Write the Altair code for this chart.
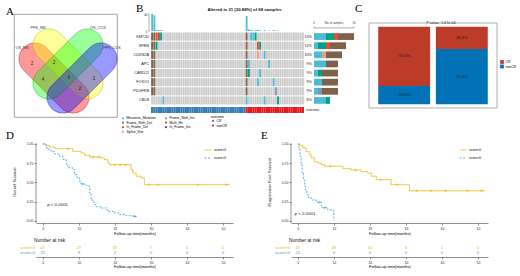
import altair as alt
import pandas as pd

# ===================== DATA =====================
# Panel A : Venn diagram
venn_sets = ["OS_NN", "PFS_NN", "OS_COX", "PFS_COX"]
venn_counts = ["2", "2", "4", "6", "1", "2"]

# Panel B : oncoplot
genes = ["KMT2D", "SPEN", "CDKN2A", "APC", "CARD11", "FOXO1", "PDGFRB", "CBLB"]
gene_pct = ["13%", "12%", "10%", "9%", "9%", "9%", "9%", "6%"]
n_samples = 68
n_cr = 42
mut_types = ["Missense_Mutation", "Frame_Shift_Del", "In_Frame_Del", "Splice_Site",
             "Frame_Shift_Ins", "Multi_Hit", "In_Frame_Ins"]
multi_hit_samples = [0, 1, 42]
multi_hit_genes = ["KMT2D", "SPEN", "CDKN2A", "APC", "CARD11", "FOXO1", "PDGFRB"]
mut_gene = ["KMT2D", "KMT2D", "KMT2D", "KMT2D", "KMT2D", "KMT2D",
            "SPEN", "SPEN", "SPEN", "CDKN2A", "CDKN2A", "APC", "APC",
            "CARD11", "CARD11", "FOXO1", "FOXO1", "PDGFRB",
            "CBLB", "CBLB", "CBLB", "CBLB"]
mut_sample = [2, 3, 4, 44, 45, 46, 2, 47, 48, 47, 50, 43, 52, 43, 48, 47, 54, 55, 5, 42, 50, 56]
mut_type = ["In_Frame_Del", "Multi_Hit", "Frame_Shift_Del", "Missense_Mutation", "Missense_Mutation",
            "Frame_Shift_Del", "Frame_Shift_Del", "In_Frame_Del", "Frame_Shift_Del", "Splice_Site",
            "Missense_Mutation", "Missense_Mutation", "Missense_Mutation", "Frame_Shift_Del",
            "Missense_Mutation", "Missense_Mutation", "Missense_Mutation", "Frame_Shift_Ins",
            "Missense_Mutation", "Missense_Mutation", "Missense_Mutation", "Frame_Shift_Del"]
tmb_sample = [0, 1, 2, 3, 4, 5, 42, 43, 44, 45, 46, 47, 48, 50, 52, 54, 55, 56]
tmb_value = [40, 37, 3, 2, 2, 1, 35, 4, 2, 1, 2, 3, 2, 2, 1, 2, 1, 1]
bar_gene = ["KMT2D"] * 4 + ["SPEN"] * 4 + ["CDKN2A"] * 3 + ["APC"] * 2 + ["CARD11"] * 3 + \
           ["FOXO1"] * 2 + ["PDGFRB"] * 3 + ["CBLB"] * 2
bar_type = ["Missense_Mutation", "Frame_Shift_Del", "In_Frame_Del", "Multi_Hit",
            "Missense_Mutation", "Frame_Shift_Del", "In_Frame_Del", "Multi_Hit",
            "Missense_Mutation", "Splice_Site", "Multi_Hit",
            "Missense_Mutation", "Multi_Hit",
            "Missense_Mutation", "Frame_Shift_Del", "Multi_Hit",
            "Missense_Mutation", "Multi_Hit",
            "Missense_Mutation", "Frame_Shift_Ins", "Multi_Hit",
            "Missense_Mutation", "Frame_Shift_Del"]
bar_count = [3, 2, 1, 4, 1, 2, 1, 4, 2, 1, 4, 3, 3, 1, 1, 4, 2, 4, 1, 1, 4, 3, 1]

# Panel C : outcome by score group
score_groups = ["score<0", "score>0"]
cr_pct = [76.6, 28.6]
noncr_pct = [23.4, 71.4]
c_pvalue = "P value : 1.67e-04"

# Panels D / E : Kaplan-Meier
os_low_t = [0, 0.9, 1.9, 3.4, 8.3, 10.6, 11.6, 13.0, 16.2, 17.1, 18.1, 18.5, 24.5, 25.0, 25.9, 27.3, 28.2, 52.0]
os_low_s = [1.0, 0.98, 0.96, 0.94, 0.904, 0.883, 0.852, 0.83, 0.817, 0.796, 0.752, 0.73, 0.665, 0.62, 0.58, 0.557, 0.47, 0.47]
os_high_t = [0, 0.9, 1.6, 2.3, 3.2, 4.6, 5.6, 6.5, 6.9, 8.3, 8.8, 9.5, 10.2, 10.6, 11.6, 12.7, 13.0, 13.4,
             13.9, 14.4, 14.8, 16.2, 17.9, 19.9, 21.3, 23.1, 25.0, 25.9]
os_high_s = [1.0, 0.95, 0.93, 0.90, 0.87, 0.84, 0.80, 0.74, 0.69, 0.67, 0.60, 0.56, 0.51, 0.48, 0.46, 0.45, 0.36,
             0.27, 0.24, 0.21, 0.18, 0.165, 0.12, 0.10, 0.08, 0.065, 0.056, 0.03]
os_low_cens = [7.0, 14.0, 15.5, 20.0, 21.5, 23.0, 29.5, 32.0, 43.0, 51.0]
os_high_cens = [11.0, 25.5]
pfs_low_t = [0, 0.5, 1.4, 2.3, 3.2, 3.7, 4.6, 5.6, 6.5, 7.4, 12.5, 14.8, 17.6, 19.4, 20.4, 21.8, 25.9, 31.0, 52.0]
pfs_low_s = [1.0, 0.98, 0.95, 0.90, 0.86, 0.82, 0.77, 0.75, 0.73, 0.71, 0.68, 0.66, 0.64, 0.62, 0.58, 0.535, 0.47, 0.39, 0.39]
pfs_high_t = [0, 0.3, 0.6, 0.9, 1.2, 1.6, 1.9, 2.1, 2.5, 3.0, 3.7, 5.1, 6.5, 8.3, 10.0]
pfs_high_s = [1.0, 0.93, 0.84, 0.73, 0.62, 0.53, 0.45, 0.40, 0.34, 0.30, 0.27, 0.24, 0.17, 0.14, 0.0]
pfs_low_cens = [9.0, 16.0, 23.0, 27.5, 33.0, 37.0, 41.0, 47.0, 51.0]
pfs_high_cens = [6.0, 7.5]
risk_t = [0, 10, 20, 30, 40, 50]
os_risk_low = [47, 27, 15, 7, 5, 2]
os_risk_high = [21, 9, 2, 0, 0, 0]
pfs_risk_low = [47, 28, 14, 6, 1, 0]
pfs_risk_high = [21, 0, 0, 0, 0, 0]

# ===================== STYLE =====================
SANS = "Liberation Sans"
SERIF = "Liberation Serif"
venn_fill = ["#FF0000", "#FFFF00", "#00FF00", "#0000FF"]
venn_line = ["#B00000", "#A0A000", "#00A000", "#0000B0"]
mut_colors = ["#4DBBD5", "#00A087", "#E64B35", "#F39B7F", "#8491B4", "#7E6148", "#3C5488"]
outcome_colors = ["#377EB8", "#E41A1C"]
c_colors = ["#BC3C29", "#0072B5"]
km_colors = ["#E7B800", "#2E9FDF"]
AX = dict(labelFontSize=3.5, tickSize=2, tickWidth=0.5, domainWidth=0.5, domainColor="#222",
          tickColor="#222", labelColor="#333", labelPadding=1, grid=False)


def letter(ch, dx, dy):
    return alt.Chart(pd.DataFrame({"t": [ch]})).mark_text(
        font=SERIF, fontSize=11, align="left", baseline="alphabetic", color="black"
    ).encode(x=alt.value(dx), y=alt.value(dy), text="t:N")


def spacer(w, h=1):
    return alt.Chart(pd.DataFrame({"v": [0]})).mark_point(opacity=0, size=1).encode(
        x=alt.value(0), y=alt.value(0)).properties(width=w, height=h)


def stadium_path(a, r):
    k = 0.5523 * r
    segs = [("M", [-a, -r]), ("L", [a, -r]),
            ("C", [a + k, -r, a + r, -k, a + r, 0]),
            ("C", [a + r, k, a + k, r, a, r]),
            ("L", [-a, r]),
            ("C", [-a - k, r, -a - r, k, -a - r, 0]),
            ("C", [-a - r, -k, -a - k, -r, -a, -r])]
    return "".join(c + ",".join(f"{v:.4f}" for v in vals) for c, vals in segs) + "Z"


# ===================== PANEL A =====================
VW = 103
vxs = alt.Scale(domain=[0, VW], nice=False, zero=False)
vys = alt.Scale(domain=[0, VW], nice=False, zero=False, reverse=True)
shape_df = pd.DataFrame({"set": venn_sets, "cx": [40, 54, 54, 68], "cy": [64, 50, 50, 64],
                         "ang": [45, 45, 135, 135]})
venn_shapes = alt.Chart(shape_df).mark_point(
    shape=stadium_path(0.628, 0.372), filled=True, opacity=1, fillOpacity=0.4,
    strokeOpacity=0.6, strokeWidth=0.6, size=86 * 86
).encode(
    x=alt.X("cx:Q", scale=vxs, axis=None),
    y=alt.Y("cy:Q", scale=vys, axis=None),
    angle=alt.Angle("ang:Q", scale=None),
    fill=alt.Fill("set:N", scale=alt.Scale(domain=venn_sets, range=venn_fill), legend=None),
    stroke=alt.Stroke("set:N", scale=alt.Scale(domain=venn_sets, range=venn_line), legend=None),
)
name_df = pd.DataFrame({"name": venn_sets, "x": [8, 24, 84, 98], "y": [34, 14, 14, 34]})
venn_names = alt.Chart(name_df).mark_text(fontSize=3.8, color="#333").encode(
    x=alt.X("x:Q", scale=vxs, axis=None), y=alt.Y("y:Q", scale=vys, axis=None), text="name:N")
count_df = pd.DataFrame({"n": venn_counts, "x": [18, 40, 29, 55, 80, 66], "y": [50, 49, 66, 64, 65, 75]})
venn_nums = alt.Chart(count_df).mark_text(fontSize=4.5, color="#222").encode(
    x=alt.X("x:Q", scale=vxs, axis=None), y=alt.Y("y:Q", scale=vys, axis=None), text="n:N")
panelA = alt.layer(venn_shapes, venn_names, venn_nums, letter("A", -8, 1)).properties(
    width=VW, height=VW, view=alt.ViewBackground(stroke="#8a8a8a", strokeWidth=0.8))

# ===================== PANEL B =====================
BW, BH = 226, 99
GX0, GY0 = 21, 18
SPX, RPX = 2.25, 9.125
sx = alt.Scale(domain=[-GX0 / SPX, (BW - GX0) / SPX], nice=False, zero=False)
ry = alt.Scale(domain=[-GY0 / RPX, (BH - GY0) / RPX], nice=False, zero=False, reverse=True)
TMB_TOP, TMB_ZERO_PX = 40, 17
ty = alt.Scale(domain=[TMB_TOP - BH * TMB_TOP / TMB_ZERO_PX, TMB_TOP], nice=False, zero=False)
CNT0_PX, CPX = 184, 4
cxs = alt.Scale(domain=[-CNT0_PX / CPX, (BW - CNT0_PX) / CPX], nice=False, zero=False)
OUT_Y0, OUT_Y1 = (106 - 31) / RPX, (BH - GY0) / RPX

gidx = {g: i for i, g in enumerate(genes)}
cell = {}
for s in multi_hit_samples:
    for g in multi_hit_genes:
        cell[(gidx[g], s)] = "Multi_Hit"
for g, s, t in zip(mut_gene, mut_sample, mut_type):
    cell[(gidx[g], s)] = t
grid_rows = []
for gi in range(len(genes)):
    for s in range(n_samples):
        grid_rows.append({"x0": s + 0.06, "x1": s + 0.94, "y0": gi + 0.055, "y1": gi + 0.945,
                          "type": cell.get((gi, s), "none")})
grid = alt.Chart(pd.DataFrame(grid_rows)).mark_rect().encode(
    x=alt.X("x0:Q", scale=sx, axis=None), x2="x1:Q",
    y=alt.Y("y0:Q", scale=ry, axis=None), y2="y1:Q",
    color=alt.Color("type:N", scale=alt.Scale(domain=mut_types + ["none"], range=mut_colors + ["#CCCCCC"]),
                    legend=alt.Legend(values=mut_types, orient="none", legendX=-9, legendY=102, columns=2,
                                      title=None, symbolType="circle", symbolSize=5, labelFontSize=3.4,
                                      rowPadding=0.6, columnPadding=8, labelOffset=1.5, padding=0)),
)
out_df = pd.DataFrame({"x0": list(range(n_samples)), "x1": [s + 1 for s in range(n_samples)],
                       "y0": OUT_Y0, "y1": OUT_Y1,
                       "outcome": ["CR" if s < n_cr else "nonCR" for s in range(n_samples)]})
outc = alt.Chart(out_df).mark_rect().encode(
    x=alt.X("x0:Q", scale=sx, axis=None), x2="x1:Q",
    y=alt.Y("y0:Q", scale=ry, axis=None), y2="y1:Q",
    color=alt.Color("outcome:N", scale=alt.Scale(domain=["CR", "nonCR"], range=outcome_colors),
                    legend=alt.Legend(orient="none", legendX=81, legendY=101, title="outcome",
                                      titleFontSize=3.4, titleFontWeight="normal", titlePadding=0.5,
                                      symbolType="circle", symbolSize=5, labelFontSize=3.4,
                                      rowPadding=0.6, labelOffset=1.5, padding=0)),
)
tmb_df = pd.DataFrame({"x0": [s + 0.1 for s in tmb_sample], "x1": [s + 0.9 for s in tmb_sample],
                       "y0": 0, "y1": tmb_value})
tmb = alt.Chart(tmb_df).mark_rect(color="#4DBBD5").encode(
    x=alt.X("x0:Q", scale=sx, axis=None), x2="x1:Q",
    y=alt.Y("y0:Q", scale=ty, axis=alt.Axis(orient="left", values=[0, TMB_TOP], domain=False, tickSize=1.5,
                                            tickWidth=0.4, labelFontSize=3, labelPadding=0.5, title=None,
                                            offset=-(GX0 - 2), grid=False, labelColor="#333")),
    y2="y1:Q",
)
tmb_rule = alt.Chart(pd.DataFrame({"x": [-0.9], "y0": [0], "y1": [TMB_TOP]})).mark_rule(
    strokeWidth=0.4, color="#333").encode(
    x=alt.X("x:Q", scale=sx, axis=None), y=alt.Y("y0:Q", scale=ty, axis=None), y2="y1:Q")

bar_rows = []
acc = {}
for g, t, c in zip(bar_gene, bar_type, bar_count):
    start = acc.get(g, 0)
    acc[g] = start + c
    bar_rows.append({"gene": g, "type": t, "x0": start, "x1": start + c,
                     "y0": gidx[g] + 0.13, "y1": gidx[g] + 0.87})
bars = alt.Chart(pd.DataFrame(bar_rows)).mark_rect().encode(
    x=alt.X("x0:Q", scale=cxs, axis=None), x2="x1:Q",
    y=alt.Y("y0:Q", scale=ry, axis=None), y2="y1:Q",
    color=alt.Color("type:N", scale=alt.Scale(domain=mut_types, range=mut_colors), legend=None),
)
bax_rule = alt.Chart(pd.DataFrame({"x0": [0], "x1": [10], "y": [-0.45]})).mark_rule(
    strokeWidth=0.4, color="#333").encode(
    x=alt.X("x0:Q", scale=cxs, axis=None), x2="x1:Q", y=alt.Y("y:Q", scale=ry, axis=None))
bax_ticks = alt.Chart(pd.DataFrame({"x": [0, 10], "y0": [-0.45, -0.45], "y1": [-0.6, -0.6]})).mark_rule(
    strokeWidth=0.4, color="#333").encode(
    x=alt.X("x:Q", scale=cxs, axis=None), y=alt.Y("y0:Q", scale=ry, axis=None), y2="y1:Q")
bax_text = alt.Chart(pd.DataFrame({"x": [0, 5, 10], "t": ["0", "No. of samples", "10"]})).mark_text(
    fontSize=2.8, baseline="bottom", color="#333", dy=-1.5).encode(
    x=alt.X("x:Q", scale=cxs, axis=None), y=alt.value(GY0 - 0.6 * RPX), text="t:N")
gene_lab = alt.Chart(pd.DataFrame({"g": genes, "y": [i + 0.5 for i in range(len(genes))]})).mark_text(
    fontSize=3.8, align="right", baseline="middle", color="#222").encode(
    x=alt.value(GX0 - 2), y=alt.Y("y:Q", scale=ry, axis=None), text="g:N")
pct_lab = alt.Chart(pd.DataFrame({"p": gene_pct, "x": 0, "y": [i + 0.5 for i in range(len(genes))]})).mark_text(
    fontSize=3.8, align="right", baseline="middle", color="#222", dx=-2).encode(
    x=alt.X("x:Q", scale=cxs, axis=None), y=alt.Y("y:Q", scale=ry, axis=None), text="p:N")
out_lab = alt.Chart(pd.DataFrame({"t": ["outcome"], "x": [n_samples + 1], "y": [(OUT_Y0 + OUT_Y1) / 2]})).mark_text(
    fontSize=3.4, align="left", baseline="middle", color="#222").encode(
    x=alt.X("x:Q", scale=sx, axis=None), y=alt.Y("y:Q", scale=ry, axis=None), text="t:N")
b_title = alt.Chart(pd.DataFrame({"t": ["Altered in 21 (30.88%) of 68 samples."]})).mark_text(
    fontSize=4.3, fontWeight="bold", baseline="middle", color="#111").encode(
    x=alt.value(244 - 129), y=alt.value(-4), text="t:N")
panelB = alt.layer(grid, outc, tmb, tmb_rule, bars, bax_rule, bax_ticks, bax_text, gene_lab, pct_lab,
                   out_lab, b_title, letter("B", 6, -2)).resolve_scale(
    x="independent", y="independent", color="independent").properties(width=BW, height=BH)

# ===================== PANEL C =====================
CW, CH = 128, 94
C_UNIT = 85 / 110.0
cys = alt.Scale(domain=[-5, 105 + 9 / C_UNIT], nice=False, zero=False)
c_rows = []
for g, cr, nc in zip(score_groups, cr_pct, noncr_pct):
    c_rows.append({"group": g, "outcome": "nonCR", "y0": 0, "y1": nc, "ym": nc / 2, "lab": f"{nc}%"})
    c_rows.append({"group": g, "outcome": "CR", "y0": nc, "y1": nc + cr, "ym": nc + cr / 2, "lab": f"{cr}%"})
c_df = pd.DataFrame(c_rows)
cxband = alt.Scale(domain=score_groups, paddingInner=0.1, paddingOuter=0.16)
c_bars = alt.Chart(c_df).mark_bar().encode(
    x=alt.X("group:N", scale=cxband, axis=alt.Axis(title=None, labelAngle=0, labelFontSize=3.4, tickSize=1.5,
                                                   tickWidth=0.4, tickColor="#777", domain=False,
                                                   labelColor="#444", labelPadding=1)),
    y=alt.Y("y0:Q", scale=cys, axis=alt.Axis(values=[0, 25, 50, 75, 100], title=None, labelFontSize=3.4,
                                             tickSize=1.5, tickWidth=0.4, tickColor="#777", domain=False,
                                             grid=False, labelColor="#444", labelPadding=1)),
    y2="y1:Q",
    color=alt.Color("outcome:N", scale=alt.Scale(domain=["CR", "nonCR"], range=c_colors),
                    legend=alt.Legend(orient="none", legendX=131, legendY=46, title=None, symbolType="square",
                                      symbolSize=14, labelFontSize=3.4, rowPadding=0.5, labelOffset=1.5,
                                      padding=0, symbolStrokeWidth=0)),
)
c_labels = alt.Chart(c_df).mark_text(fontSize=4.2, color="#222").encode(
    x=alt.X("group:N", scale=cxband, axis=None), y=alt.Y("ym:Q", scale=cys, axis=None), text="lab:N")
c_frame = alt.Chart(pd.DataFrame({"a": [0]})).mark_rect(fillOpacity=0, stroke="#9a9a9a", strokeWidth=0.8).encode(
    y=alt.datum(-5), y2=alt.datum(105))
c_title = alt.Chart(pd.DataFrame({"t": [c_pvalue]})).mark_text(fontSize=3.6, baseline="middle", dx=8,
                                                              color="#222").encode(
    y=alt.datum(105), text="t:N")
panelC = alt.layer(c_bars, c_labels, c_frame, c_title, letter("C", -14, -2)).properties(width=CW, height=CH)

# ===================== PANELS D / E (curve + risk table in one view) =====================
KW, KH = 197, 114
KM_PLOT_H = 80
KM_XDOM = [-1.9, 52.8]
KM_YTOP, KM_YBOT = 1.013, -0.03
KY_UNIT = KM_PLOT_H / (KM_YTOP - KM_YBOT)
kxs = alt.Scale(domain=KM_XDOM, nice=False, zero=False)
kys = alt.Scale(domain=[KM_YTOP - KH / KY_UNIT, KM_YTOP], nice=False, zero=False)
RISK_ROW_PX, RISK_ROW0_PX = 5, 105
rys = alt.Scale(domain=[-RISK_ROW0_PX / RISK_ROW_PX, (KH - RISK_ROW0_PX) / RISK_ROW_PX],
                nice=False, zero=False, reverse=True)
gscale = alt.Scale(domain=score_groups, range=km_colors)


def step_value(ts, ss, t):
    v = ss[0]
    for ti, si in zip(ts, ss):
        if ti <= t:
            v = si
    return v


def km_legend():
    return alt.Legend(orient="none", legendX=168, legendY=3, title=None, symbolType="stroke", symbolSize=49,
                      symbolStrokeWidth=0.8, labelFontSize=3.4, rowPadding=2, labelOffset=2, padding=0)


def km_panel(tl, sl, th, sh, cl, ch, ytitle, px, py, ch_letter, risk_low, risk_high):
    df = pd.concat([pd.DataFrame({"t": tl, "s": sl, "g": "score<0"}),
                    pd.DataFrame({"t": th, "s": sh, "g": "score>0"})])
    lines = alt.Chart(df).mark_line(interpolate="step-after", strokeWidth=0.8).encode(
        x=alt.X("t:Q", scale=kxs, axis=alt.Axis(orient="bottom", offset=-(KH - KM_PLOT_H), values=risk_t,
                                                title="Follow-up time(months)", titleFontSize=4,
                                                titleFontWeight="normal", titlePadding=2, **AX)),
        y=alt.Y("s:Q", scale=kys, axis=alt.Axis(orient="left", values=[0, 0.25, 0.5, 0.75, 1.0], format=".2f",
                                                title=None, domain=False, **{k: v for k, v in AX.items()
                                                                               if not k.startswith("domain")})),
        color=alt.Color("g:N", scale=gscale, legend=km_legend()),
        strokeDash=alt.StrokeDash("g:N", scale=alt.Scale(domain=score_groups, range=[[1, 0], [2, 1.5]]),
                                  legend=km_legend()),
    )
    yline = alt.Chart(pd.DataFrame({"x": [KM_XDOM[0]], "y0": [KM_YBOT], "y1": [KM_YTOP]})).mark_rule(
        strokeWidth=0.5, color="#222").encode(
        x=alt.X("x:Q", scale=kxs, axis=None), y=alt.Y("y0:Q", scale=kys, axis=None), y2="y1:Q")
    cdf = pd.concat([pd.DataFrame({"t": cl, "s": [step_value(tl, sl, t) for t in cl], "g": "score<0"}),
                     pd.DataFrame({"t": ch, "s": [step_value(th, sh, t) for t in ch], "g": "score>0"})])
    cens = alt.Chart(cdf).mark_point(shape="M-1,0L1,0M0,-1L0,1", filled=False, size=9, strokeWidth=0.5,
                                     opacity=1).encode(
        x=alt.X("t:Q", scale=kxs, axis=None), y=alt.Y("s:Q", scale=kys, axis=None),
        color=alt.Color("g:N", scale=gscale, legend=None))
    ptxt = alt.Chart(pd.DataFrame({"t": [px], "s": [py], "lab": ["p < 0.0001"]})).mark_text(
        fontSize=4.4, align="left", baseline="middle", color="#222").encode(
        x=alt.X("t:Q", scale=kxs, axis=None), y=alt.Y("s:Q", scale=kys, axis=None), text="lab:N")
    ytit = alt.Chart(pd.DataFrame({"s": [0.5], "lab": [ytitle]})).mark_text(
        fontSize=4.2, angle=270, align="center", baseline="middle", color="#222").encode(
        x=alt.value(-21.5), y=alt.Y("s:Q", scale=kys, axis=None), text="lab:N")
    # risk table
    rdf = pd.concat([pd.DataFrame({"t": risk_t, "n": risk_low, "g": "score<0", "r": 0}),
                     pd.DataFrame({"t": risk_t, "n": risk_high, "g": "score>0", "r": 1})])
    rnums = alt.Chart(rdf).mark_text(fontSize=4.2, baseline="middle").encode(
        x=alt.X("t:Q", scale=kxs, axis=alt.Axis(orient="bottom", values=risk_t, title="Follow-up time(months)",
                                                titleFontSize=4, titleFontWeight="normal", titlePadding=1, **AX)),
        y=alt.Y("r:Q", scale=rys, axis=None),
        text="n:Q",
        fill=alt.Fill("g:N", scale=gscale, legend=None),
    )
    rlabs = alt.Chart(pd.DataFrame({"g": score_groups, "r": [0, 1]})).mark_text(
        fontSize=4.2, align="right", baseline="middle").encode(
        x=alt.value(-1), y=alt.Y("r:Q", scale=rys, axis=None), text="g:N",
        fill=alt.Fill("g:N", scale=gscale, legend=None))
    rtitle = alt.Chart(pd.DataFrame({"r": [-1.4], "lab": ["Number at risk"]})).mark_text(
        fontSize=4.8, align="left", baseline="middle", color="#111").encode(
        x=alt.value(-2), y=alt.Y("r:Q", scale=rys, axis=None), text="lab:N")
    return alt.layer(lines, yline, cens, ptxt, ytit, rnums, rlabs, rtitle, letter(ch_letter, -30, -4)).resolve_scale(
        x="independent", y="independent").properties(width=KW, height=KH)


panelD = km_panel(os_low_t, os_low_s, os_high_t, os_high_s, os_low_cens, os_high_cens,
                  "Overall Survival", 1.2, 0.2, "D", os_risk_low, os_risk_high)
panelE = km_panel(pfs_low_t, pfs_low_s, pfs_high_t, pfs_high_s, pfs_low_cens, pfs_high_cens,
                  "Progression Free Survival", -0.9, 0.09, "E", pfs_risk_low, pfs_risk_high)

# ===================== LAYOUT =====================
indep = dict(color="independent", fill="independent", stroke="independent", strokeDash="independent")
row1 = alt.hconcat(panelA, spacer(13), panelB, spacer(13), panelC, spacing=0, bounds="flush").resolve_scale(**indep)
row2 = alt.hconcat(spacer(22), panelD, spacer(58), panelE, spacing=0, bounds="flush").resolve_scale(**indep)
chart = alt.vconcat(row1, row2, spacing=-4).resolve_scale(**indep).properties(
    padding={"left": 5, "top": 3, "right": 0, "bottom": 0}
).configure(font=SANS).configure_view(stroke=None)

chart.save("out.html", embed_options={"renderer": "svg", "actions": False})
